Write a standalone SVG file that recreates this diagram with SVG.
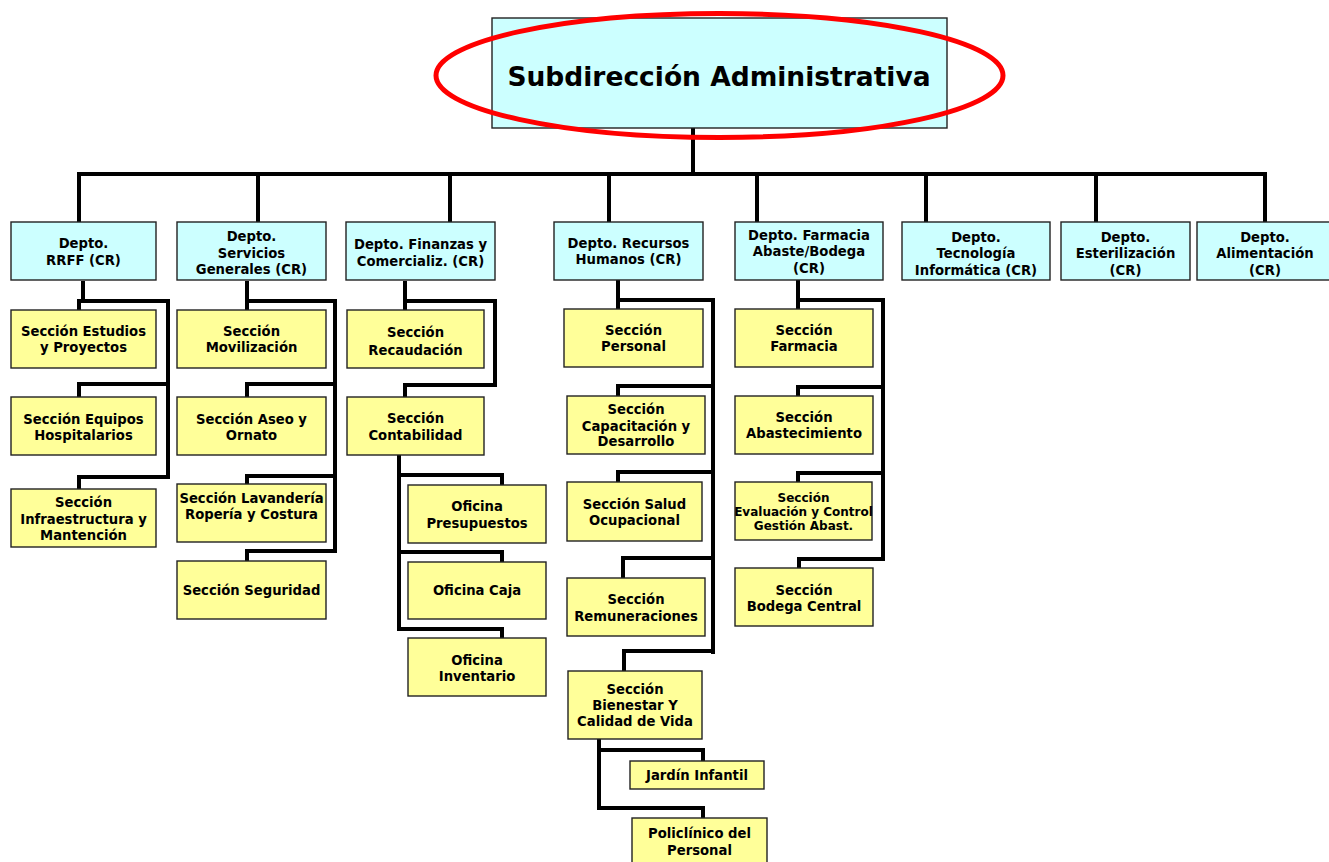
<svg xmlns="http://www.w3.org/2000/svg" width="1329" height="862" viewBox="0 0 1329 862">
<defs>
<style>
.dept{fill:#CCFFFF;stroke:#222;stroke-width:1.4}
.sec{fill:#FFFF99;stroke:#222;stroke-width:1.4}
.t{font-family:"DejaVu Sans",Verdana,sans-serif;font-weight:bold;font-size:13.2px;text-anchor:middle;fill:#000}
.s{font-size:12px}
.title{font-size:26.5px}
.c{fill:none;stroke:#000;stroke-width:4;stroke-linejoin:miter}
</style>
</defs>
<rect width="1329" height="862" fill="#fff"/>

<g id="connectors">
<path class="c" d="M693,128 V174"/>
<path class="c" d="M79,222 V174 H1265 V222"/>
<path class="c" d="M258,174 V222 M450,174 V222 M609,174 V222 M757,174 V222 M926,174 V222 M1096,174 V222"/>
<path class="c" d="M83,281 V301"/>
<path class="c" d="M79,310 V301 H168 V477 H79 V489"/>
<path class="c" d="M168,384 H79 V397"/>
<path class="c" d="M247,281 V310"/>
<path class="c" d="M247,301 H335 V551 H247 V561"/>
<path class="c" d="M335,384 H247 V397"/>
<path class="c" d="M335,476 H247 V484"/>
<path class="c" d="M405,281 V310"/>
<path class="c" d="M405,301 H495 V385 H405 V397"/>
<path class="c" d="M399,455 V629 H502 V638"/>
<path class="c" d="M399,475 H502 V485"/>
<path class="c" d="M399,552 H502 V562"/>
<path class="c" d="M618,280 V309"/>
<path class="c" d="M618,300 H713 V654"/>
<path class="c" d="M713,386 H618 V396"/>
<path class="c" d="M713,472 H618 V482"/>
<path class="c" d="M713,558 H623 V578"/>
<path class="c" d="M713,651 H624 V671"/>
<path class="c" d="M599,739 V808 H703 V818"/>
<path class="c" d="M599,750 H703 V761"/>
<path class="c" d="M798,280 V309"/>
<path class="c" d="M798,300 H883 V559 H799 V568"/>
<path class="c" d="M883,387 H798 V396"/>
<path class="c" d="M883,473 H798 V482"/>
</g>

<g id="subdireccion">
<rect x="492" y="18" width="455" height="110" class="dept"/>
<text x="719" y="86" class="t title">Subdirección Administrativa</text>
<ellipse cx="719.5" cy="75.5" rx="283.5" ry="62" fill="none" stroke="#FF0000" stroke-width="5"/>
</g>

<g id="depto-rrff">
<rect x="11" y="222" width="145" height="58" class="dept"/>
<text class="t" x="83.5" y="248">Depto.</text>
<text class="t" x="83.5" y="265">RRFF (CR)</text>
</g>
<g id="depto-servicios">
<rect x="177" y="222" width="149" height="58" class="dept"/>
<text class="t" x="251.5" y="241">Depto.</text>
<text class="t" x="251.5" y="258">Servicios</text>
<text class="t" x="251.5" y="274">Generales (CR)</text>
</g>
<g id="depto-finanzas">
<rect x="346" y="222" width="149" height="58" class="dept"/>
<text class="t" x="420.5" y="249">Depto. Finanzas y</text>
<text class="t" x="420.5" y="266">Comercializ. (CR)</text>
</g>
<g id="depto-rrhh">
<rect x="554" y="222" width="149" height="58" class="dept"/>
<text class="t" x="628.5" y="248">Depto. Recursos</text>
<text class="t" x="628.5" y="264">Humanos (CR)</text>
</g>
<g id="depto-farmacia">
<rect x="735" y="222" width="148" height="58" class="dept"/>
<text class="t" x="809" y="240">Depto. Farmacia</text>
<text class="t" x="809" y="256">Abaste/Bodega</text>
<text class="t" x="809" y="273">(CR)</text>
</g>
<g id="depto-tecnologia">
<rect x="902" y="222" width="148" height="58" class="dept"/>
<text class="t" x="976" y="242">Depto.</text>
<text class="t" x="976" y="258">Tecnología</text>
<text class="t" x="976" y="274.5">Informática (CR)</text>
</g>
<g id="depto-esterilizacion">
<rect x="1061" y="222" width="129" height="58" class="dept"/>
<text class="t" x="1125.5" y="242">Depto.</text>
<text class="t" x="1125.5" y="258">Esterilización</text>
<text class="t" x="1125.5" y="274.5">(CR)</text>
</g>
<g id="depto-alimentacion">
<rect x="1197" y="222" width="137" height="58" class="dept"/>
<text class="t" x="1265" y="242">Depto.</text>
<text class="t" x="1265" y="258">Alimentación</text>
<text class="t" x="1265" y="274.5">(CR)</text>
</g>

<g id="sec-estudios">
<rect x="11" y="310" width="145" height="58" class="sec"/>
<text class="t" x="83.5" y="335.5">Sección Estudios</text>
<text class="t" x="83.5" y="352">y Proyectos</text>
</g>
<g id="sec-equipos">
<rect x="11" y="397" width="145" height="58" class="sec"/>
<text class="t" x="83.5" y="423.5">Sección Equipos</text>
<text class="t" x="83.5" y="439.5">Hospitalarios</text>
</g>
<g id="sec-infraestructura">
<rect x="11" y="489" width="145" height="58" class="sec"/>
<text class="t" x="83.5" y="507">Sección</text>
<text class="t" x="83.5" y="523.5">Infraestructura y</text>
<text class="t" x="83.5" y="539.5">Mantención</text>
</g>

<g id="sec-movilizacion">
<rect x="177" y="310" width="149" height="58" class="sec"/>
<text class="t" x="251.5" y="335.5">Sección</text>
<text class="t" x="251.5" y="352">Movilización</text>
</g>
<g id="sec-aseo">
<rect x="177" y="397" width="149" height="58" class="sec"/>
<text class="t" x="251.5" y="423.5">Sección Aseo y</text>
<text class="t" x="251.5" y="439.5">Ornato</text>
</g>
<g id="sec-lavanderia">
<rect x="177" y="484" width="149" height="58" class="sec"/>
<text class="t" x="251.5" y="503">Sección Lavandería</text>
<text class="t" x="251.5" y="518.5">Ropería y Costura</text>
</g>
<g id="sec-seguridad">
<rect x="177" y="561" width="149" height="58" class="sec"/>
<text class="t" x="251.5" y="595">Sección Seguridad</text>
</g>

<g id="sec-recaudacion">
<rect x="347" y="310" width="137" height="58" class="sec"/>
<text class="t" x="415.5" y="337">Sección</text>
<text class="t" x="415.5" y="354.5">Recaudación</text>
</g>
<g id="sec-contabilidad">
<rect x="347" y="397" width="137" height="58" class="sec"/>
<text class="t" x="415.5" y="423">Sección</text>
<text class="t" x="415.5" y="439.5">Contabilidad</text>
</g>
<g id="of-presupuestos">
<rect x="408" y="485" width="138" height="58" class="sec"/>
<text class="t" x="477" y="510.5">Oficina</text>
<text class="t" x="477" y="528">Presupuestos</text>
</g>
<g id="of-caja">
<rect x="408" y="562" width="138" height="57" class="sec"/>
<text class="t" x="477" y="595">Oficina Caja</text>
</g>
<g id="of-inventario">
<rect x="408" y="638" width="138" height="58" class="sec"/>
<text class="t" x="477" y="664.5">Oficina</text>
<text class="t" x="477" y="680.5">Inventario</text>
</g>

<g id="sec-personal">
<rect x="564" y="309" width="139" height="58" class="sec"/>
<text class="t" x="633.5" y="334.5">Sección</text>
<text class="t" x="633.5" y="351">Personal</text>
</g>
<g id="sec-capacitacion">
<rect x="567" y="396" width="138" height="58" class="sec"/>
<text class="t" x="636" y="414">Sección</text>
<text class="t" x="636" y="430.5">Capacitación y</text>
<text class="t" x="636" y="446">Desarrollo</text>
</g>
<g id="sec-salud">
<rect x="567" y="482" width="135" height="59" class="sec"/>
<text class="t" x="634.5" y="508.5">Sección Salud</text>
<text class="t" x="634.5" y="524.5">Ocupacional</text>
</g>
<g id="sec-remuneraciones">
<rect x="567" y="578" width="138" height="58" class="sec"/>
<text class="t" x="636" y="604">Sección</text>
<text class="t" x="636" y="620.5">Remuneraciones</text>
</g>
<g id="sec-bienestar">
<rect x="568" y="671" width="134" height="68" class="sec"/>
<text class="t" x="635" y="694">Sección</text>
<text class="t" x="635" y="709.5">Bienestar Y</text>
<text class="t" x="635" y="725.5">Calidad de Vida</text>
</g>
<g id="jardin">
<rect x="630" y="761" width="134" height="28" class="sec"/>
<text class="t" x="697" y="779.5">Jardín Infantil</text>
</g>
<g id="policlinico">
<rect x="632" y="818" width="135" height="52" class="sec"/>
<text class="t" x="699.5" y="838">Policlínico del</text>
<text class="t" x="699.5" y="854.5">Personal</text>
</g>

<g id="sec-farmacia">
<rect x="735" y="309" width="138" height="58" class="sec"/>
<text class="t" x="804" y="334.5">Sección</text>
<text class="t" x="804" y="351">Farmacia</text>
</g>
<g id="sec-abastecimiento">
<rect x="735" y="396" width="138" height="58" class="sec"/>
<text class="t" x="804" y="422">Sección</text>
<text class="t" x="804" y="438">Abastecimiento</text>
</g>
<g id="sec-evaluacion">
<rect x="735" y="482" width="137" height="58" class="sec"/>
<text class="t s" x="803.5" y="501.5">Sección</text>
<text class="t s" x="803.5" y="515.5">Evaluación y Control</text>
<text class="t s" x="803.5" y="530">Gestión Abast.</text>
</g>
<g id="sec-bodega">
<rect x="735" y="568" width="138" height="58" class="sec"/>
<text class="t" x="804" y="594.5">Sección</text>
<text class="t" x="804" y="610.5">Bodega Central</text>
</g>
</svg>
